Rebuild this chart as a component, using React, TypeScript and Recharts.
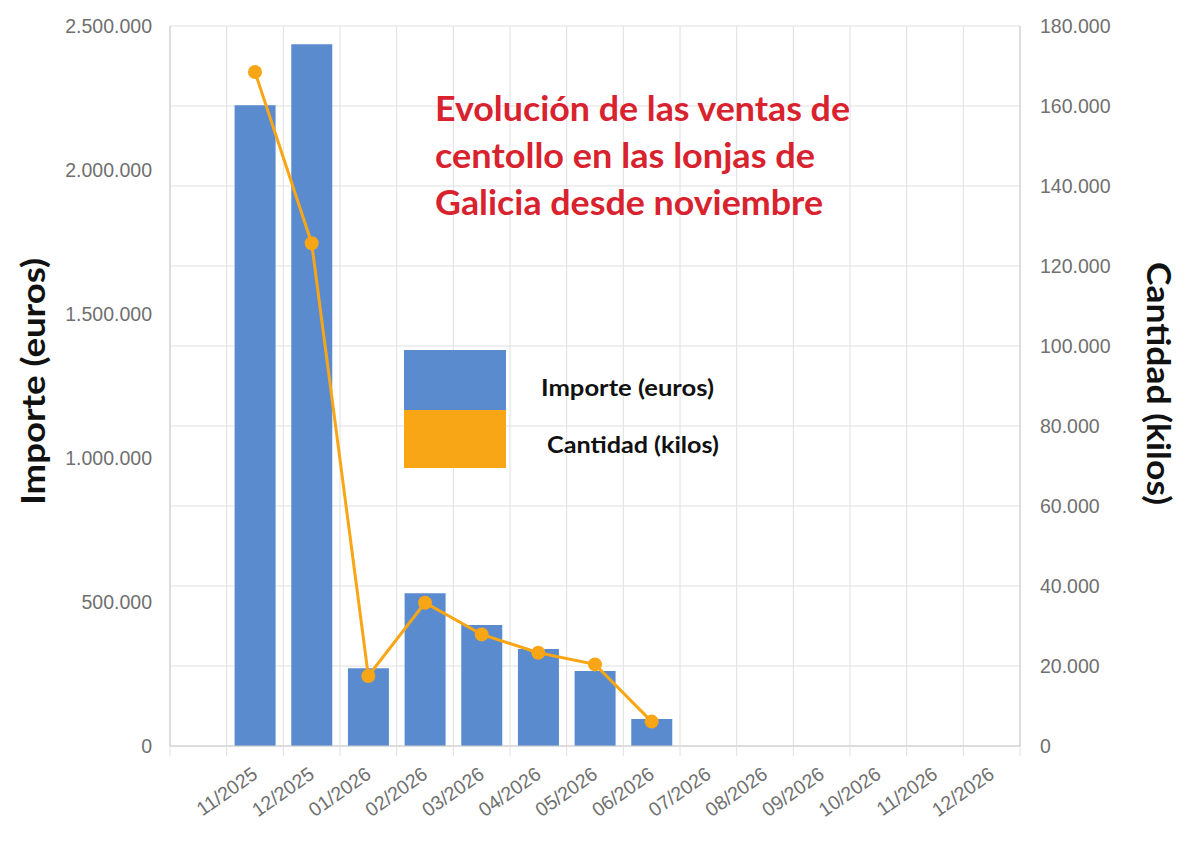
import React from 'react';
import {
  ComposedChart,
  Bar,
  Line,
  XAxis,
  YAxis,
  CartesianGrid,
  Legend,
  Customized,
} from 'recharts';

// Monthly sales of spider crab (centollo) in Galician fish markets
const months = [
  '11/2025', '12/2025', '01/2026', '02/2026', '03/2026', '04/2026', '05/2026',
  '06/2026', '07/2026', '08/2026', '09/2026', '10/2026', '11/2026', '12/2026',
];
const importeEuros: (number | null)[] = [
  2225000, 2437000, 270000, 530000, 420000, 337000, 260000, 94000,
  null, null, null, null, null, null,
];
const cantidadKilos: (number | null)[] = [
  168500, 125700, 17500, 35800, 27900, 23300, 20400, 6100,
  null, null, null, null, null, null,
];
const importeTicks = [0, 500000, 1000000, 1500000, 2000000, 2500000];
const cantidadTicks = [0, 20000, 40000, 60000, 80000, 100000, 120000, 140000, 160000, 180000];
const titleLines = [
  'Evolución de las ventas de',
  'centollo en las lonjas de',
  'Galicia desde noviembre',
];
const seriesNames = { importe: 'Importe (euros)', cantidad: 'Cantidad (kilos)' };
const legendOrder = ['importe', 'cantidad'];

// Layout
const W = 1200;
const H = 845;
const PLOT_LEFT = 170;
const PLOT_RIGHT = 1020;
const PLOT_TOP = 26;
const PLOT_BOTTOM = 746;

const BLUE = '#5b8bcf';
const ORANGE = '#f8a616';
const GRID = '#e0e0e0';
const AXIS = '#cccccc';
const TICK_GRAY = '#707070';
const TITLE_RED = '#d8232f';
const BOLD_FONT = 'Lato, "Open Sans", sans-serif';
const TICK_FONT = '"Liberation Sans", Arial, sans-serif';

// A blank slot precedes the first month on the category axis
const chartData = [
  { mes: '', importe: null as number | null, cantidad: null as number | null },
  ...months.map((mes, i) => ({ mes, importe: importeEuros[i], cantidad: cantidadKilos[i] })),
];

const thousands = (n: number) => String(n).replace(/\B(?=(\d{3})+(?!\d))/g, '.');

const bandWidth = (PLOT_RIGHT - PLOT_LEFT) / chartData.length;

// Month label plus a short tick at each band boundary
const MonthTick = (props: any) => {
  const { x, y, payload, index } = props;
  const left = x - bandWidth / 2;
  const ax = x + 4;
  const ay = y + 31;
  return (
    <g>
      <line x1={left} x2={left} y1={y} y2={y + 10} stroke={GRID} strokeWidth={1} />
      {index === chartData.length - 1 && (
        <line x1={left + bandWidth} x2={left + bandWidth} y1={y} y2={y + 10} stroke={GRID} strokeWidth={1} />
      )}
      {payload.value ? (
        <text
          x={ax}
          y={ay}
          textAnchor="end"
          transform={`rotate(-35 ${ax} ${ay})`}
          fill={TICK_GRAY}
          fontSize={19.5}
          fontFamily={TICK_FONT}
        >
          {payload.value}
        </text>
      ) : null}
    </g>
  );
};

const Titles = () => (
  <g>
    {titleLines.map((line, i) => (
      <text
        key={line}
        x={435}
        y={121 + i * 47}
        fill={TITLE_RED}
        fontSize={33.5}
        fontWeight={700}
        fontFamily={BOLD_FONT}
        textLength={[415, 380, 388][i]}
        lengthAdjust="spacingAndGlyphs"
      >
        {line}
      </text>
    ))}
    <text
      transform="translate(45 381.5) rotate(-90)"
      textAnchor="middle"
      fill="#111"
      fontSize={33}
      fontWeight={700}
      fontFamily={BOLD_FONT}
      textLength={247}
      lengthAdjust="spacingAndGlyphs"
    >
      {seriesNames.importe}
    </text>
    <text
      transform="translate(1147 383.5) rotate(90)"
      textAnchor="middle"
      fill="#111"
      fontSize={33}
      fontWeight={700}
      fontFamily={BOLD_FONT}
      textLength={243}
      lengthAdjust="spacingAndGlyphs"
    >
      {seriesNames.cantidad}
    </text>
  </g>
);

const LegendBlock = (props: any) => {
  const items = [...(props.payload || [])].sort(
    (a: any, b: any) => legendOrder.indexOf(a.dataKey) - legendOrder.indexOf(b.dataKey),
  );
  const rows = [
    { y: 0, h: 60, tx: 137, ty: 46, len: 173 },
    { y: 60, h: 58, tx: 143, ty: 103, len: 172 },
  ];
  return (
    <svg width={330} height={120} style={{ display: 'block' }}>
      {items.map((entry: any, i: number) => {
        const r = rows[i] || rows[rows.length - 1];
        return (
          <g key={entry.value}>
            <rect x={0} y={r.y} width={102} height={r.h} fill={entry.color} />
            <text
              x={r.tx}
              y={r.ty}
              fill="#111"
              fontSize={22.5}
              fontWeight={700}
              fontFamily={BOLD_FONT}
              textLength={r.len}
              lengthAdjust="spacingAndGlyphs"
            >
              {entry.value}
            </text>
          </g>
        );
      })}
    </svg>
  );
};

export default function App() {
  return (
    <div style={{ position: 'absolute', left: 0, top: 0, width: W, height: H, background: '#fff' }}>
      <ComposedChart
        width={W}
        height={H}
        data={chartData}
        margin={{ top: PLOT_TOP, right: 0, bottom: 0, left: 0 }}
        barCategoryGap="14%"
      >
        <CartesianGrid
          yAxisId="right"
          stroke={GRID}
          verticalCoordinatesGenerator={(args: any) => {
            const left = args?.offset?.left ?? PLOT_LEFT;
            const width = args?.offset?.width ?? PLOT_RIGHT - PLOT_LEFT;
            const step = width / chartData.length;
            return Array.from({ length: chartData.length + 1 }, (_, i) => left + i * step);
          }}
        />
        <XAxis
          dataKey="mes"
          height={H - PLOT_BOTTOM}
          interval={0}
          tickLine={false}
          tickSize={0}
          tickMargin={0}
          axisLine={{ stroke: AXIS }}
          tick={<MonthTick />}
        />
        <YAxis
          yAxisId="left"
          orientation="left"
          width={PLOT_LEFT}
          domain={[0, 2500000]}
          ticks={importeTicks}
          tickFormatter={thousands}
          tickLine={false}
          tickSize={0}
          tickMargin={18}
          axisLine={{ stroke: AXIS }}
          tick={{ fill: TICK_GRAY, fontSize: 19.5, fontFamily: TICK_FONT }}
        />
        <YAxis
          yAxisId="right"
          orientation="right"
          width={W - PLOT_RIGHT}
          domain={[0, 180000]}
          ticks={cantidadTicks}
          tickFormatter={thousands}
          tickLine={false}
          tickSize={0}
          tickMargin={20}
          axisLine={{ stroke: AXIS }}
          tick={{ fill: TICK_GRAY, fontSize: 19.5, fontFamily: TICK_FONT }}
        />
        <Bar
          yAxisId="left"
          dataKey="importe"
          name={seriesNames.importe}
          fill={BLUE}
          isAnimationActive={false}
        />
        <Line
          yAxisId="right"
          type="linear"
          dataKey="cantidad"
          name={seriesNames.cantidad}
          stroke={ORANGE}
          strokeWidth={3}
          dot={{ r: 7, fill: ORANGE, stroke: ORANGE, strokeWidth: 0 }}
          activeDot={false}
          isAnimationActive={false}
        />
        <Legend
          layout="horizontal"
          align="center"
          verticalAlign="middle"
          content={<LegendBlock />}
          wrapperStyle={{ left: 404, top: 350, width: 330, height: 120 }}
        />
        <Customized component={<Titles />} />
      </ComposedChart>
    </div>
  );
}
